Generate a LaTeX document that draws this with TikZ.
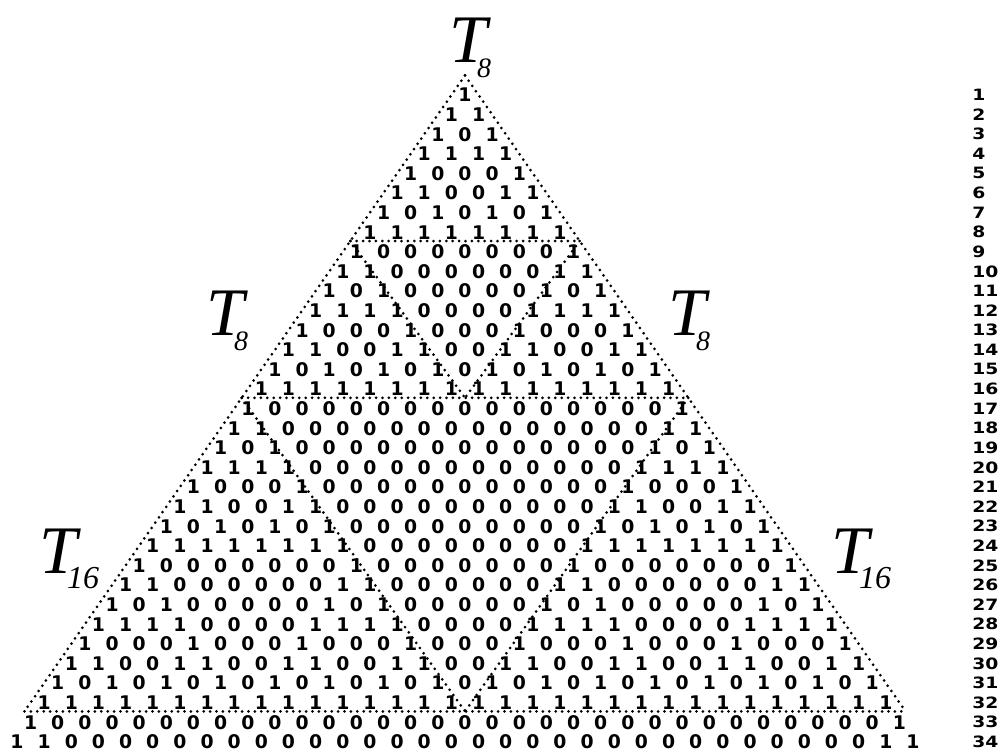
\documentclass[tikz,border=0pt]{standalone}
\usepackage{fontspec}
\setmainfont{Liberation Serif}
\newfontfamily\bitfont{DejaVu Sans}
\usepackage{graphicx}

\begin{document}
\begin{tikzpicture}[x=0.5pt,y=-0.5pt,
  bit/.style={font=\bitfont\bfseries\fontsize{9.4}{10}\selectfont,inner sep=0pt},
  rownum/.style={font=\bitfont\bfseries\fontsize{7.8}{8}\selectfont,inner sep=0pt,anchor=west},
  tlabel/.style={anchor=base west,inner sep=0pt,font=\itshape\fontsize{34}{36}\selectfont},
  outline/.style={line width=1.5pt,line cap=round,dash pattern=on 0pt off 3.2pt}]
\useasboundingbox (0,0) rectangle (1000,751);
% corners of the dotted triangles
\coordinate (apex) at (465,75.4);
\coordinate (L8) at (350.3,241.0);
\coordinate (R8) at (579.7,241.0);
\coordinate (L16) at (241.7,397.8);
\coordinate (R16) at (688.3,397.8);
\coordinate (M16) at (465,397.8);
\coordinate (L32) at (24.5,711.4);
\coordinate (R32) at (905.5,711.4);
\coordinate (M32) at (465,711.4);
% rows of the triangle, mod 2
\foreach \n in {1,...,34}{
  \node[rownum] (r\n) at (972,{95+(\n-1)*19.6}) {\scalebox{1.2}[1]{\n}};
  \foreach \c in {1,...,\n}{
    \pgfmathtruncatemacro\np{\n-1}
    \pgfmathtruncatemacro\cp{\c-1}
    \ifnum\c=1 \def\bval{1}\else\ifnum\c=\n \def\bval{1}\else
      \pgfmathtruncatemacro\bval{mod(\csname pas-\np-\cp\endcsname+\csname pas-\np-\c\endcsname,2)}%
    \fi\fi
    \expandafter\xdef\csname pas-\n-\c\endcsname{\bval}
    \node[bit] (b\n-\c) at ({465+(\c-1-(\n-1)/2)*27.15},{95+(\n-1)*19.6}) {\bval};
  }
}
\draw[outline] (apex) -- (L32);
\draw[outline] (apex) -- (R32);
\draw[outline] (L8) -- (R8);
\draw[outline] (L16) -- (R16);
\draw[outline] (L32) -- (R32);
\draw[outline] (L8) -- (M16);
\draw[outline] (R8) -- (M16);
\draw[outline] (L16) -- (M32);
\draw[outline] (R16) -- (M32);
\node[tlabel] (t8top) at (449,62) {T\kern-5pt\raisebox{-7.5pt}{\fontsize{14}{16}\selectfont 8}};
\node[tlabel] (t8left) at (206,335) {T\kern-5pt\raisebox{-7.5pt}{\fontsize{14}{16}\selectfont 8}};
\node[tlabel] (t8right) at (668,335) {T\kern-5pt\raisebox{-7.5pt}{\fontsize{14}{16}\selectfont 8}};
\node[tlabel] (t16left) at (39,573) {T\kern-5pt\raisebox{-7.5pt}{\fontsize{16}{18}\selectfont 16}};
\node[tlabel] (t16right) at (831,573) {T\kern-5pt\raisebox{-7.5pt}{\fontsize{16}{18}\selectfont 16}};
\end{tikzpicture}
\end{document}
